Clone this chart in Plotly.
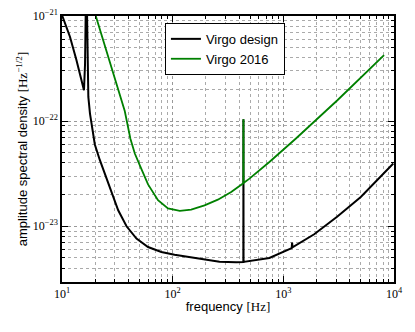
import plotly.graph_objects as go

# Virgo design sensitivity
design_freq = [10, 11.8, 13.5, 15.6, 15.8, 16.15, 16.45, 16.65, 16.85, 17.3, 17.9, 18.8, 19.8,
               22.0, 25.3, 28.0, 30.0, 32.2, 38.3, 47.1, 59.9, 79.0, 104, 128, 194, 265, 375,
               435, 436, 437, 748, 1190, 1200, 1210, 1900, 3060, 5010, 9860]
design_asd = [1.02e-21, 6.35e-22, 3.81e-22, 2.05e-22, 1.97e-22, 3.5e-22, 1.0e-21, 4e-21,
              1.0e-21, 1.7e-22, 1.18e-22, 8.2e-23, 6.0e-23, 4.25e-23, 2.8e-23, 2.05e-23,
              1.71e-23, 1.42e-23, 1.0e-23, 7.63e-24, 6.35e-24, 5.69e-24, 5.37e-24, 5.17e-24,
              4.85e-24, 4.6e-24, 4.55e-24, 4.57e-24, 1.04e-22, 4.58e-24, 5.0e-24, 6.2e-24,
              7.0e-24, 6.3e-24, 8.4e-24, 1.23e-23, 1.9e-23, 3.95e-23]

# Virgo 2016
v2016_freq = [20.2, 31.1, 36.9, 41.5, 45.5, 50.5, 59.9, 73.7, 90.7, 116, 147, 194, 256, 338,
              430, 435, 436, 437, 494, 748, 1300, 2110, 3080, 8130]
v2016_asd = [1.0e-21, 2.29e-22, 1.25e-22, 6.8e-23, 4.92e-23, 3.8e-23, 2.5e-23, 1.77e-23,
             1.48e-23, 1.4e-23, 1.44e-23, 1.58e-23, 1.79e-23, 2.12e-23, 2.55e-23, 2.57e-23,
             1.04e-22, 2.58e-23, 2.84e-23, 4.09e-23, 6.84e-23, 1.1e-22, 1.58e-22, 4.25e-22]

x_ticks = [10, 100, 1000, 10000]
x_labels = ["10<sup>1</sup>", "10<sup>2</sup>", "10<sup>3</sup>", "10<sup>4</sup>"]
y_ticks = [1e-23, 1e-22, 1e-21]
y_labels = ["10<sup>−23</sup>", "10<sup>−22</sup>", "10<sup>−21</sup>"]

fig = go.Figure()
fig.add_trace(go.Scatter(x=design_freq, y=design_asd, mode="lines", name="Virgo design",
                         line=dict(color="black", width=2)))
fig.add_trace(go.Scatter(x=v2016_freq, y=v2016_asd, mode="lines", name="Virgo 2016",
                         line=dict(color="#008000", width=1.8)))

axis_common = dict(
    showline=True, linecolor="black", linewidth=1.5, mirror="allticks",
    ticks="inside", ticklen=6, tickcolor="black", zeroline=False, automargin=False,
    tickfont=dict(family="Liberation Serif", size=12, color="black"),
    showgrid=True, gridcolor="#999999", griddash="dot", gridwidth=1,
    minor=dict(dtick="D1", ticks="inside", ticklen=3, tickcolor="black",
               showgrid=True, gridcolor="#aaaaaa", griddash="dot", gridwidth=1),
)
title_font = dict(family="Liberation Sans", size=13, color="black")

fig.update_xaxes(type="log", range=[1, 4], tickmode="array", tickvals=x_ticks,
                 ticktext=x_labels,
                 title=dict(text="frequency <span style='font-family:Liberation Serif'>[Hz]</span>",
                            font=title_font, standoff=2),
                 **axis_common)
fig.update_yaxes(type="log", range=[-23.53, -21], tickmode="array", tickvals=y_ticks,
                 ticktext=y_labels,
                 title=dict(text="amplitude spectral density "
                                 "<span style='font-family:Liberation Serif'>[Hz<sup>−1/2</sup>]</span>",
                            font=title_font, standoff=2),
                 **axis_common)

# the page body adds an 8 px margin at top/left, so the figure is 8 px smaller
fig.update_layout(
    width=407, height=324,
    margin=dict(l=54, r=21, t=8, b=50),
    paper_bgcolor="white", plot_bgcolor="white",
    showlegend=True,
    legend=dict(x=0.31, y=0.974, xanchor="left", yanchor="top",
                bgcolor="white", bordercolor="black", borderwidth=1,
                font=dict(family="Liberation Sans", size=13, color="black"),
                tracegroupgap=0),
)

fig.write_html("out.html")
